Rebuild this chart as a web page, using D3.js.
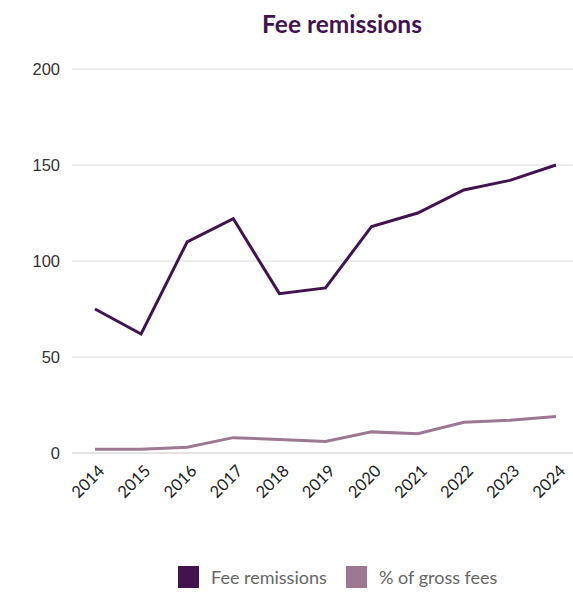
<!DOCTYPE html>
<html>
<head>
<meta charset="utf-8">
<script src="https://cdn.jsdelivr.net/npm/d3@7"></script>
<style>
  html, body { margin: 0; padding: 0; background: #fff; }
  svg { display: block; }
</style>
</head>
<body>
<svg id="chart" width="573" height="596"></svg>
<script>
const years = ["2014","2015","2016","2017","2018","2019","2020","2021","2022","2023","2024"];
const feeRemissions = [75, 62, 110, 122, 83, 86, 118, 125, 137, 142, 150];
const pctGrossFees = [2, 2, 3, 8, 7, 6, 11, 10, 16, 17, 19];
const yTicks = [0, 50, 100, 150, 200];
const seriesNames = ["Fee remissions", "% of gross fees"];
const seriesColors = ["#42144f", "#9c7893"];

const svg = d3.select("#chart");
const plot = { left: 72, right: 573, top: 69, bottom: 453 };

const x = d3.scalePoint().domain(years).range([95, 556]);
const y = d3.scaleLinear().domain([0, 200]).range([plot.bottom, plot.top]);

// Title
svg.append("text")
  .attr("x", 342).attr("y", 33)
  .attr("text-anchor", "middle")
  .attr("font-family", "Lato, sans-serif")
  .attr("font-weight", "bold")
  .attr("font-size", 24.5)
  .attr("fill", "#42144f")
  .text("Fee remissions");

// Horizontal gridlines
svg.append("g")
  .selectAll("line")
  .data(yTicks)
  .join("line")
  .attr("x1", plot.left).attr("x2", plot.right)
  .attr("y1", d => y(d)).attr("y2", d => y(d))
  .attr("stroke", d => d === 0 ? "#c8c8c8" : "#dcdcdc")
  .attr("stroke-width", 1);

// Y-axis labels
const yAxis = d3.axisLeft(y).tickValues(yTicks).tickSize(0).tickPadding(0);
svg.append("g")
  .attr("transform", "translate(60,0)")
  .call(yAxis)
  .call(g => g.select(".domain").remove())
  .call(g => g.selectAll("text")
    .attr("font-family", "'Liberation Sans', Arial, sans-serif")
    .attr("font-size", 16.5)
    .attr("fill", "#333"));

// X-axis labels, rotated
const xAxis = d3.axisBottom(x).tickSize(0).tickPadding(0);
svg.append("g")
  .attr("transform", `translate(0,${plot.bottom})`)
  .call(xAxis)
  .call(g => g.select(".domain").remove())
  .call(g => g.selectAll("text")
    .attr("font-family", "Lato, sans-serif")
    .attr("font-size", 16.5)
    .attr("fill", "#222")
    .attr("text-anchor", "end")
    .attr("dy", null)
    .attr("y", null)
    .attr("transform", "translate(10,19) rotate(-45)"));

// Lines
const line = d3.line()
  .x((d, i) => x(years[i]))
  .y(d => y(d));

[pctGrossFees, feeRemissions].forEach((vals, k) => {
  const color = k === 0 ? seriesColors[1] : seriesColors[0];
  svg.append("path")
    .datum(vals)
    .attr("fill", "none")
    .attr("stroke", color)
    .attr("stroke-width", 3)
    .attr("stroke-linejoin", "miter")
    .attr("d", line);
});

// Legend
const legend = svg.append("g").attr("transform", "translate(178,566)");
const legendX = [0, 168];
seriesNames.forEach((name, i) => {
  const g = legend.append("g").attr("transform", `translate(${legendX[i]},0)`);
  g.append("rect").attr("width", 21).attr("height", 22).attr("fill", seriesColors[i]);
  g.append("text")
    .attr("x", 33).attr("y", 18)
    .attr("font-family", "Lato, sans-serif")
    .attr("font-size", 18)
    .attr("fill", "#666")
    .text(name);
});
</script>
</body>
</html>
